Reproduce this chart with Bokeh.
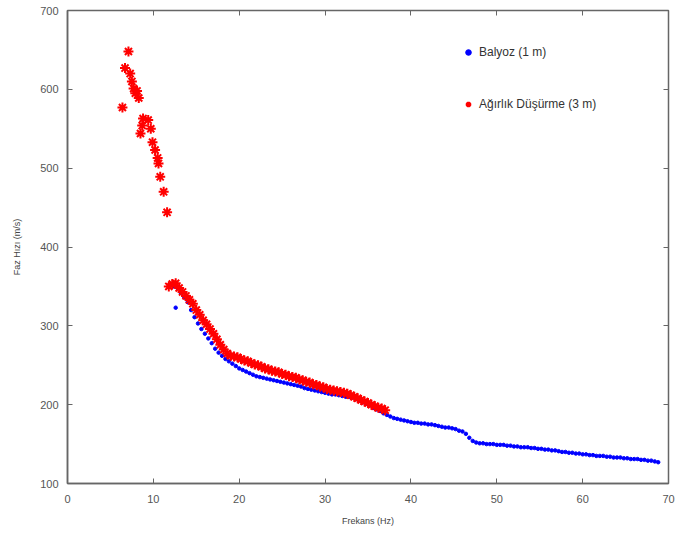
from bokeh.plotting import figure
from bokeh.models import LinearAxis, Range1d, Legend, LegendItem
from bokeh.embed import file_html
from bokeh.resources import INLINE

# Balyoz (1 m) - blue dots
balyoz_f = [12.4, 12.6, 12.8, 13.2, 13.6, 14.0, 14.4, 14.8, 15.2, 15.6, 16.0, 16.4, 16.8, 17.2, 17.6,
            18.0, 18.4, 18.8, 19.2, 19.6, 20.0, 20.4, 20.8, 21.2, 21.6, 22.0, 22.4, 22.8, 23.2, 23.6,
            24.0, 24.4, 24.8, 25.2, 25.6, 26.0, 26.4, 26.8, 27.2, 27.6, 28.0, 28.4, 28.8, 29.2, 29.6,
            30.0, 30.4, 30.8, 31.2, 31.6, 32.0, 32.4, 32.8, 33.2, 33.6, 34.0, 34.4, 34.8, 35.2, 35.6,
            36.0, 36.4, 36.8, 37.2, 37.6, 38.0, 38.4, 38.8, 39.2, 39.6, 40.0, 40.4, 40.8, 41.2, 41.6,
            42.0, 42.4, 42.8, 43.2, 43.6, 44.0, 44.4, 44.8, 45.2, 45.6, 46.0, 46.4, 46.8, 47.2, 47.6,
            48.0, 48.4, 48.8, 49.2, 49.6, 50.0, 50.4, 50.8, 51.2, 51.6, 52.0, 52.4, 52.8, 53.2, 53.6,
            54.0, 54.4, 54.8, 55.2, 55.6, 56.0, 56.4, 56.8, 57.2, 57.6, 58.0, 58.4, 58.8, 59.2, 59.6,
            60.0, 60.4, 60.8, 61.2, 61.6, 62.0, 62.4, 62.8, 63.2, 63.6, 64.0, 64.4, 64.8, 65.2, 65.6,
            66.0, 66.4, 66.8, 67.2, 67.6, 68.0, 68.4, 68.8]
balyoz_v = [350, 323, 348, 342, 336, 330, 320, 311, 303, 296, 290, 284, 278, 271, 266,
            262, 258, 255, 252, 249, 246, 244, 242, 240, 238, 236, 235, 234, 233, 232,
            231, 230, 229, 228, 227, 226, 225, 224, 223, 221, 220, 219, 218, 217, 216,
            215, 214, 213, 213, 212, 211, 210, 210, 209, 207, 205, 203, 201, 199, 196,
            194, 192, 189, 187, 185, 183, 182, 181, 180, 179, 178, 177, 177, 176, 176,
            175, 175, 174, 173, 172, 171, 171, 170, 169, 167, 166, 163, 158, 154, 152,
            151, 151, 150, 150, 150, 149, 149, 149, 148, 148, 147, 147, 146, 146, 146,
            145, 145, 144, 144, 143, 143, 142, 142, 141, 140, 140, 139, 139, 138, 138,
            137, 137, 136, 136, 135, 135, 135, 134, 134, 133, 133, 133, 132, 132, 131,
            131, 131, 130, 130, 129, 129, 128, 127]

# Ağırlık Düşürme (3 m) - red stars
agirlik_f = [6.4, 6.7, 7.1, 7.3, 7.5, 7.7, 7.9, 8.1, 8.3, 8.5, 8.7, 8.8, 9.4, 9.7, 9.9,
             10.2, 10.5, 10.6, 10.8, 11.2, 11.6,
             11.8, 12.2, 12.6, 13.0, 13.4, 13.8, 14.2, 14.6, 15.0, 15.4, 15.8, 16.2, 16.6, 17.0,
             17.4, 17.8, 18.2, 18.6, 19.0, 19.4, 19.8, 20.2, 20.6, 21.0, 21.4, 21.8, 22.2, 22.6,
             23.0, 23.4, 23.8, 24.2, 24.6, 25.0, 25.4, 25.8, 26.2, 26.6, 27.0, 27.4, 27.8, 28.2,
             28.6, 29.0, 29.4, 29.8, 30.2, 30.6, 31.0, 31.4, 31.8, 32.2, 32.6, 33.0, 33.4, 33.8,
             34.2, 34.6, 35.0, 35.4, 35.8, 36.2, 36.6, 37.0]
agirlik_v = [577, 627, 648, 620, 610, 601, 595, 598, 589, 544, 554, 563, 561, 550, 533,
             523, 513, 506, 489, 470, 444,
             350, 353, 354, 348, 343, 338, 333, 328, 320, 314, 307, 302, 296, 290,
             283, 276, 270, 265, 262, 261, 260, 258, 256, 255, 253, 251, 250, 248,
             246, 245, 243, 242, 241, 239, 238, 236, 235, 234, 232, 231, 229, 228,
             226, 225, 223, 222, 220, 219, 218, 217, 216, 215, 214, 212, 210, 208,
             206, 204, 202, 200, 198, 196, 195, 193]

x_ticks = [0, 10, 20, 30, 40, 50, 60, 70]
y_ticks = [100, 200, 300, 400, 500, 600, 700]

FONT = "Liberation Sans"
GRAY = "#666666"

p = figure(width=677, height=536, output_backend="svg", toolbar_location=None,
           x_range=Range1d(0, 70), y_range=Range1d(100, 700),
           min_border_left=67, min_border_right=9, min_border_top=10, min_border_bottom=53)
p.background_fill_color = "white"
p.border_fill_color = "white"
p.outline_line_color = GRAY
p.outline_line_width = 1.5
p.xgrid.visible = False
p.ygrid.visible = False

r_b = p.scatter(balyoz_f, balyoz_v, marker="circle", size=3.5, color="#0000ff")
r_a = p.scatter(agirlik_f, agirlik_v, marker="asterisk", size=10, line_width=2, color="#ff0000")

for ax in (p.xaxis[0], p.yaxis[0]):
    ax.axis_line_color = GRAY
    ax.axis_line_width = 1.5
    ax.major_tick_line_color = GRAY
    ax.major_tick_in = 5
    ax.major_tick_out = 0
    ax.minor_tick_line_color = None
    ax.major_label_text_font = FONT
    ax.major_label_text_font_size = "11px"
    ax.major_label_text_color = "#555555"
    ax.axis_label_text_font = FONT
    ax.axis_label_text_font_size = "9px"
    ax.axis_label_text_font_style = "normal"
    ax.axis_label_text_color = "#444444"

p.xaxis[0].ticker = x_ticks
p.yaxis[0].ticker = y_ticks
p.xaxis[0].axis_label = "Frekans (Hz)"
p.yaxis[0].axis_label = "Faz Hızı (m/s)"
p.xaxis[0].major_label_standoff = 11
p.yaxis[0].major_label_standoff = 9
p.xaxis[0].axis_label_standoff = 10
p.yaxis[0].axis_label_standoff = 15

top = LinearAxis(ticker=x_ticks, major_label_overrides={t: "" for t in x_ticks})
right = LinearAxis(ticker=y_ticks, major_label_overrides={t: "" for t in y_ticks})
for ax in (top, right):
    ax.axis_line_color = None
    ax.major_tick_line_color = GRAY
    ax.major_tick_in = 5
    ax.major_tick_out = 0
    ax.minor_tick_line_color = None
    ax.major_label_standoff = 0
p.add_layout(top, "above")
p.add_layout(right, "right")

legend = Legend(items=[LegendItem(label="Balyoz (1 m)", renderers=[r_b]),
                       LegendItem(label="Ağırlık Düşürme (3 m)", renderers=[r_a])],
                location=(394, 369))
legend.border_line_color = None
legend.background_fill_alpha = 0
legend.padding = 0
legend.margin = 0
legend.spacing = 32
legend.glyph_width = 14
legend.glyph_height = 20
legend.label_height = 20
legend.label_standoff = 4
legend.label_text_font = FONT
legend.label_text_font_size = "12px"
legend.label_text_color = "#333333"
p.add_layout(legend, "center")

open("out.html", "w").write(file_html(p, INLINE))
